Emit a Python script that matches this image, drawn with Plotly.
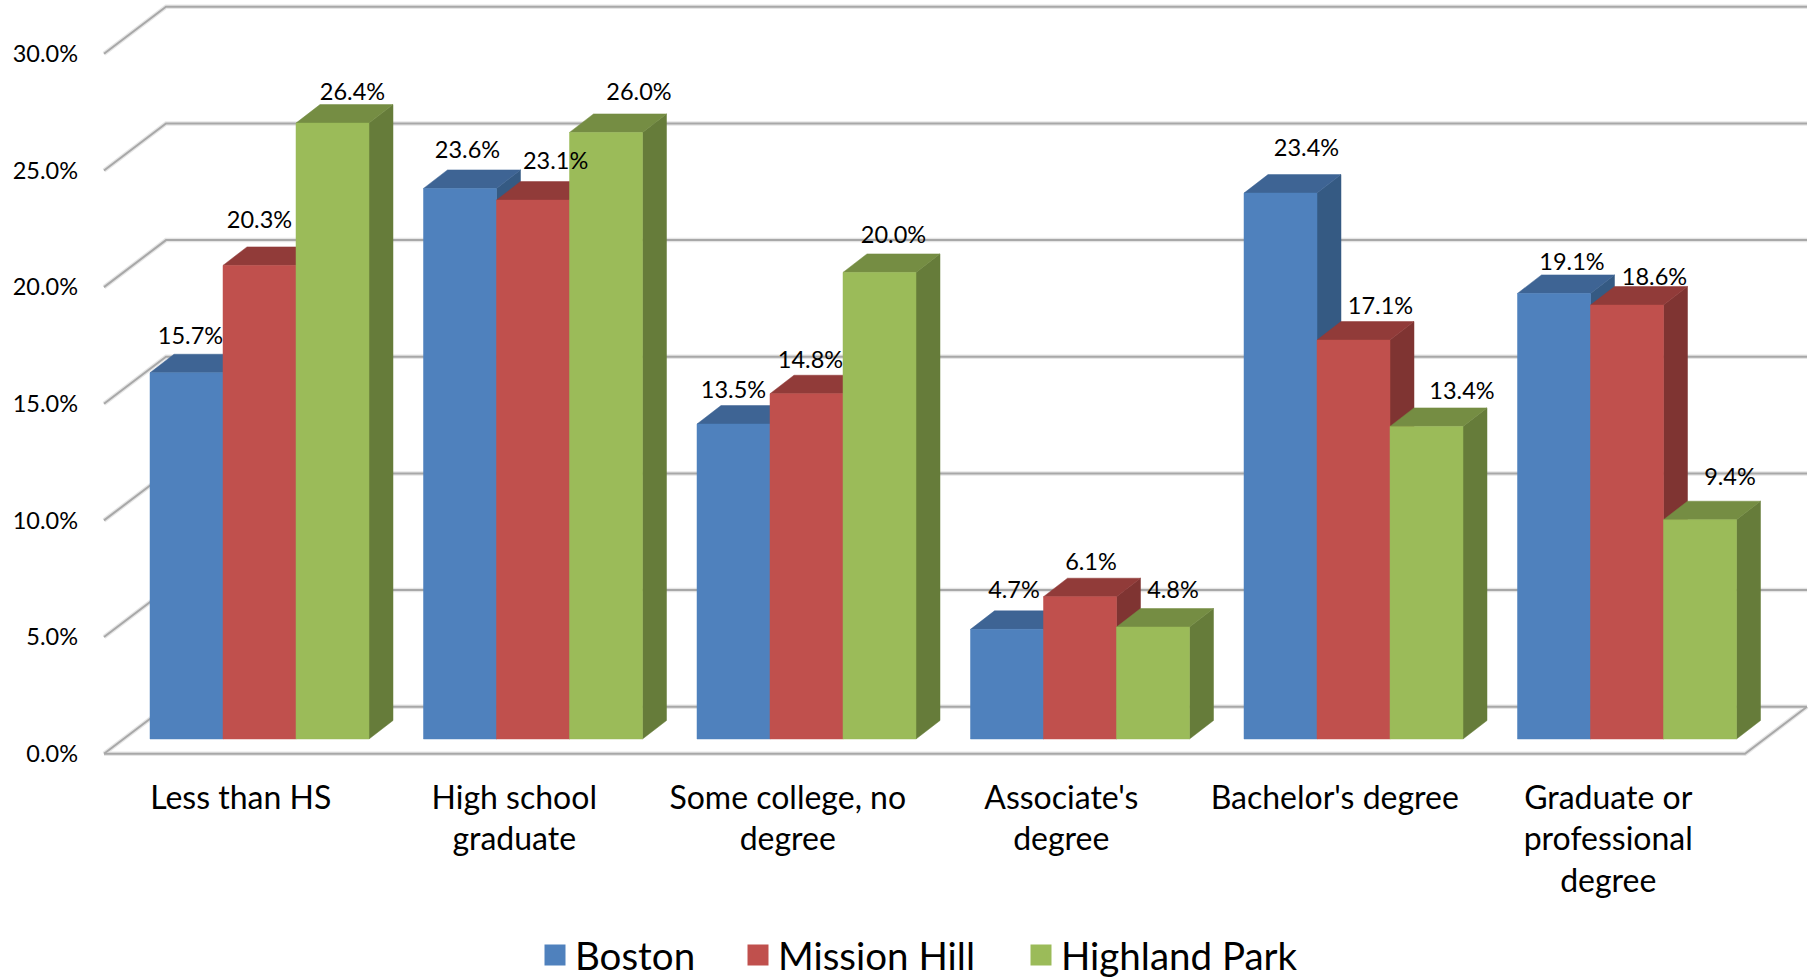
import plotly.graph_objects as go

categories = ["Less than HS", "High school<br>graduate", "Some college, no<br>degree",
              "Associate's<br>degree", "Bachelor's degree", "Graduate or<br>professional<br>degree"]
boston = [15.7, 23.6, 13.5, 4.7, 23.4, 19.1]
mission_hill = [20.3, 23.1, 14.8, 6.1, 17.1, 18.6]
highland_park = [26.4, 26.0, 20.0, 4.8, 13.4, 9.4]
y_ticks = [0, 5, 10, 15, 20, 25, 30]
y_tick_labels = ["0.0%", "5.0%", "10.0%", "15.0%", "20.0%", "25.0%", "30.0%"]

series = [
    ("Boston", boston, "#4F81BD", "#3E6494", "#355A83"),
    ("Mission Hill", mission_hill, "#C0504D", "#913B39", "#7F3432"),
    ("Highland Park", highland_park, "#9BBB59", "#758D43", "#667C3A"),
]

# label offsets in pixels from the front-top edge centre (dx right, dy up)
label_nudges = [
    [(4, 34.5), (7.5, 36.5), (0, 32), (7, 37.5), (26, 42.5), (18, 29)],
    [(0, 43), (22.6, 36.5), (4, 31.5), (11, 33), (27, 32), (27.5, 26)],
    [(20, 28.5), (33, 38.5), (14, 35.5), (20, 34.5), (35.5, 33), (30, 41)],
]
legend_left_px = [535, 738, 1021]

# geometry
W, H = 1814, 978
LEGEND_TOP = 923.5      # a container-anchored legend reserves the space below this line
PX_CAT = 273.5          # pixels per category
PX_PCT = 23.33          # pixels per percentage point
AX_LEFT, AX_ZERO = 104, 753.7
WALL_DX, WALL_DY = 62 / PX_CAT, 47 / PX_PCT
BAR_W = 73 / PX_CAT
BAR_OX, BAR_OY = 18.75 / PX_CAT, 14.7 / PX_PCT
DEPTH_X, DEPTH_Y = 24 / PX_CAT, 18.5 / PX_PCT
X0, X1 = 0.5, 6.5

FONT = "Lato"
fig = go.Figure()

# walls: gridlines run from the front axis to the back wall, then along it
gx, gy = [], []
for t in y_ticks:
    gx += [X0, X0 + WALL_DX, X1 + WALL_DX, None]
    gy += [t, t + WALL_DY, t + WALL_DY, None]
gx += [X0, X1, X1 + WALL_DX, None]
gy += [0, 0, WALL_DY, None]
for col, w in (("#E6E6E6", 4.5), ("#A8A8A8", 2)):
    fig.add_trace(go.Scatter(x=gx, y=gy, mode="lines", line=dict(color=col, width=w),
                             showlegend=False, hoverinfo="skip"))

# bars as oblique boxes, one series at a time so later bars cover earlier sides
legends = {}
for s, (name, vals, front, top, side) in enumerate(series):
    fx, fy, tx, ty, sx, sy = [], [], [], [], [], []
    for i, v in enumerate(vals):
        l = (i + 1) + BAR_OX + (s - 1.5) * BAR_W
        r = l + BAR_W
        b = BAR_OY
        h = BAR_OY + v
        fx += [l, r, r, l, l, None]
        fy += [b, b, h, h, b, None]
        tx += [l, r, r + DEPTH_X, l + DEPTH_X, l, None]
        ty += [h, h, h + DEPTH_Y, h + DEPTH_Y, h, None]
        sx += [r, r + DEPTH_X, r + DEPTH_X, r, r, None]
        sy += [b, b + DEPTH_Y, h + DEPTH_Y, h, b, None]
    for px, py, col in ((sx, sy, side), (tx, ty, top), (fx, fy, front)):
        fig.add_trace(go.Scatter(x=px, y=py, mode="lines", fill="toself", fillcolor=col,
                                 line=dict(color=col, width=0.5), legendgroup=name,
                                 showlegend=False, hoverinfo="skip"))
    key = "legend" if s == 0 else f"legend{s + 1}"
    fig.add_trace(go.Scatter(x=[None], y=[None], mode="markers", name=name, legendgroup=name,
                             legend=key,
                             marker=dict(symbol="square", size=24, color=front,
                                         line=dict(color=front, width=5))))
    legends[key] = dict(orientation="h", xref="container", yref="container",
                        x=legend_left_px[s] / W, xanchor="left",
                        y=(H - LEGEND_TOP) / H, yanchor="top",
                        itemsizing="trace", bgcolor="rgba(0,0,0,0)",
                        font=dict(family=FONT, size=38.5, color="#000000"))

# data labels
for s, (name, vals, *_rest) in enumerate(series):
    lx, ly = [], []
    for i, v in enumerate(vals):
        dx, dy = label_nudges[s][i]
        lx.append((i + 1) + BAR_OX + (s - 1) * BAR_W + dx / PX_CAT)
        ly.append(BAR_OY + v + dy / PX_PCT)
    fig.add_trace(go.Scatter(x=lx, y=ly, mode="text", text=[f"{v:.1f}%" for v in vals],
                             textposition="middle center", legendgroup=name, showlegend=False,
                             textfont=dict(family=FONT, size=23.5, color="#000000"),
                             hovertemplate=name + ": %{text}<extra></extra>"))

fig.update_layout(
    width=W, height=H, margin=dict(l=0, r=0, t=0, b=0), autosize=False,
    paper_bgcolor="#FFFFFF", plot_bgcolor="#FFFFFF", showlegend=True,
    xaxis=dict(range=[X0 - AX_LEFT / PX_CAT, X0 + (W - AX_LEFT) / PX_CAT], anchor="free",
               position=(LEGEND_TOP - AX_ZERO) / LEGEND_TOP, tickmode="array",
               tickvals=list(range(1, 7)),
               ticktext=categories, showgrid=False, zeroline=False, showline=False, ticks="",
               ticklabelstandoff=22, tickangle=0, automargin=False,
               tickfont=dict(family=FONT, size=32, color="#000000")),
    yaxis=dict(range=[-(LEGEND_TOP - AX_ZERO) / PX_PCT, AX_ZERO / PX_PCT], anchor="free",
               position=AX_LEFT / W, tickmode="array", tickvals=y_ticks, ticktext=y_tick_labels,
               showgrid=False, zeroline=False, showline=False, ticks="",
               ticklabelstandoff=26, automargin=False,
               tickfont=dict(family=FONT, size=23.5, color="#000000")),
    **legends,
)
fig.write_html("out.html", config={"displayModeBar": False},
               post_script="document.body.style.margin='0';")
